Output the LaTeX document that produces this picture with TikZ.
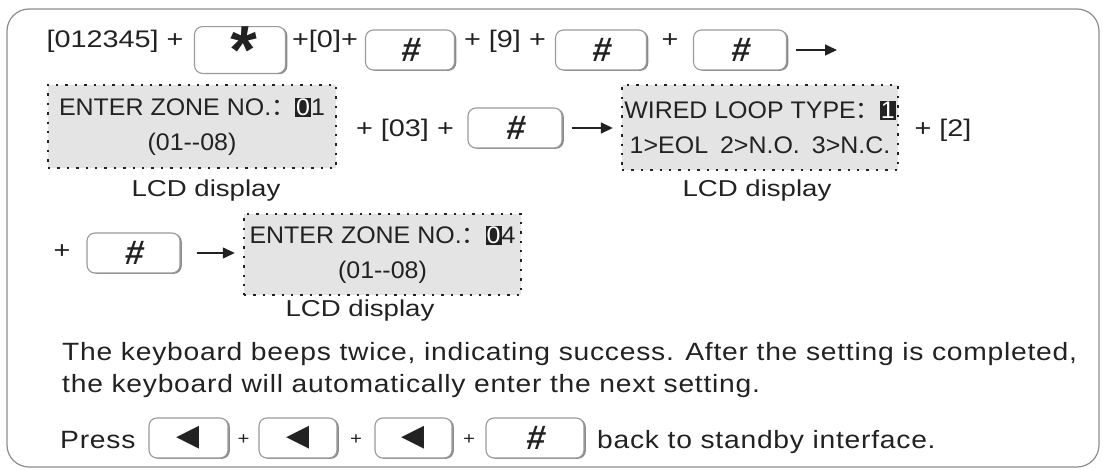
\documentclass[tikz,border=0pt]{standalone}
\usepackage{fontspec}
\setmainfont{Liberation Sans}
\newfontfamily\seqfont{Liberation Sans}[FakeStretch=1.2]
\newfontfamily\lcdfont{Liberation Sans}[FakeStretch=1.04]
\newfontfamily\bodyfont{Liberation Sans}[FakeStretch=1.13,LetterSpace=3]
\newfontfamily\keyfont{Liberation Sans Bold}[FakeSlant=0.12]
\newfontfamily\cjkfont{Noto Sans CJK SC}
\newfontfamily\symfont{DejaVu Sans}
\usetikzlibrary{arrows.meta,positioning,shadows}

\definecolor{ink}{HTML}{222222}
\definecolor{lcdgray}{HTML}{E4E4E4}
\definecolor{keyedge}{HTML}{9A9A9A}
\definecolor{keyshade}{HTML}{8A8A8A}
\definecolor{framegray}{HTML}{8C8C8C}

\newcommand{\invdigit}[1]{{\setlength{\fboxsep}{1pt}\colorbox{ink}{\textcolor{white}{#1}}}}
\newcommand{\fwcolon}{{\cjkfont ：}}
\newcommand{\leftkey}{{\symfont\fontsize{30}{30}\selectfont ◀}}

\begin{document}
\begin{tikzpicture}[x=1pt, y=-1pt,
    key/.style={draw=keyedge, fill=white, line width=1.1pt, rounded corners=8pt,
        minimum height=40pt, inner sep=0pt, text=ink,
        font=\keyfont\fontsize{34}{34}\selectfont,
        drop shadow={shadow xshift=1.8pt, shadow yshift=-0.8pt, fill=keyshade, opacity=1}},
    lcd/.style={draw=ink, fill=lcdgray, line width=2.4pt, dash pattern=on 2.4pt off 7pt,
        align=center, text=ink, inner sep=0pt, font=\lcdfont\fontsize{24}{35}\selectfont},
    seq/.style={font=\seqfont\fontsize{24}{24}\selectfont, text=ink, inner sep=0pt, anchor=base},
    note/.style={font=\seqfont\fontsize{23}{23}\selectfont, text=ink, inner sep=0pt},
    body/.style={font=\bodyfont\fontsize{25}{25}\selectfont, text=ink, inner sep=0pt, anchor=base west},
    flow/.style={draw=ink, line width=1.4pt, -{Triangle[length=12pt, width=11pt]},
        shorten <=9pt, shorten >=8pt}]
    \useasboundingbox (0,0) rectangle (1103,470);

    % Frame
    \draw[framegray, line width=1.2pt, rounded corners=22pt] (7,9) rectangle (1099,467);

    % First row: enter the programming code
    \node[seq] (pin) at (115,48) {[012345] +};
    \node[key, minimum width=91pt] (kstar) at (240,50)
        {\fontsize{68}{68}\selectfont\raisebox{-0.37em}{*}};
    \node[seq] (p0) at (325,48) {+[0]+};
    \node[key, minimum width=89pt] (kh1) at (410,50) {\#};
    \node[seq] (p9) at (505,48) {+ [9] +};
    \node[key, minimum width=91pt] (kh2) at (601,50) {\#};
    \node[seq] (pl1) at (670,48) {+};
    \node[key, minimum width=93pt] (kh3) at (740,50) {\#};
    \coordinate (end1) at (845,50);
    \draw[flow] (kh3) -- (end1);

    % Second row: zone number and loop type
    \node[lcd, minimum width=288pt, minimum height=83pt] (lcd1) at (192,126.5)
        {ENTER ZONE NO.\fwcolon\invdigit{0}1\\(01-{}-08)};
    \node[seq] (p03) at (405,137) {+ [03] +};
    \node[key, minimum width=94pt] (kh4) at (515,128) {\#};
    \node[lcd, minimum width=276pt, minimum height=85pt] (lcd2) at (760,127.5)
        {WIRED LOOP TYPE\fwcolon\invdigit{1}\\1>EOL\hspace{0.5em}2>N.O.\hspace{0.5em}3>N.C.};
    \node[seq] (p2) at (943,137) {+ [2]};
    \draw[flow] (kh4) -- (kh4 -| lcd2.west);
    \node[note] (cap1) at (206,191) {LCD display};
    \node[note] (cap2) at (757,191) {LCD display};

    % Third row: next zone
    \node[seq] (pl3) at (62,259) {+};
    \node[key, minimum width=93pt] (kh5) at (133.5,253) {\#};
    \node[lcd, minimum width=277pt, minimum height=81pt] (lcd3) at (382.5,254.5)
        {ENTER ZONE NO.\fwcolon\invdigit{0}4\\(01-{}-08)};
    \draw[flow, shorten <=16pt] (kh5) -- (kh5 -| lcd3.west);
    \node[note] (cap3) at (360,311) {LCD display};

    % Notes
    \node[body] (line1) at (62,360)
        {The keyboard beeps twice, indicating success. After the setting is completed,};
    \node[body] (line2) at (62,392)
        {the keyboard will automatically enter the next setting.};
    \node[body] (press) at (60,448) {Press};
    \node[key, minimum width=79pt] (kb1) at (188.5,438) {\leftkey};
    \node[seq, font=\seqfont\fontsize{17}{17}\selectfont] (q1) at (243.5,444) {+};
    \node[key, minimum width=78pt] (kb2) at (298,438) {\leftkey};
    \node[seq, font=\seqfont\fontsize{17}{17}\selectfont] (q2) at (356,444) {+};
    \node[key, minimum width=77pt] (kb3) at (413.5,438) {\leftkey};
    \node[seq, font=\seqfont\fontsize{17}{17}\selectfont] (q3) at (469,444) {+};
    \node[key, minimum width=98pt] (kb4) at (535,438) {\#};
    \node[body] (back) at (597,448) {back to standby interface.};
\end{tikzpicture}
\end{document}
